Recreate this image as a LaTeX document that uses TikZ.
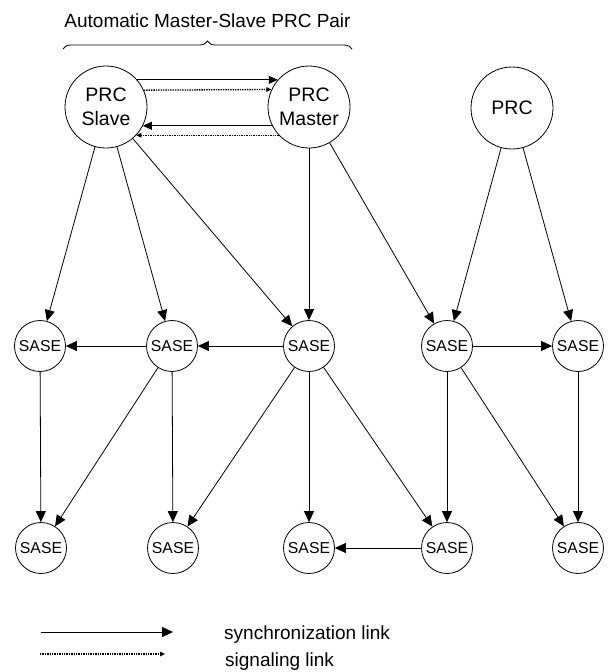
\documentclass[tikz,border=0pt]{standalone}
\usepackage{fontspec}
\setmainfont{Liberation Sans}
\usetikzlibrary{arrows.meta,decorations.pathreplacing}
\begin{document}
\begin{tikzpicture}[x=1pt,y=-1pt,
  prc/.style={circle,draw,line width=0.8pt,minimum size=82pt,inner sep=0pt,font=\fontsize{19.5}{23.5}\selectfont,align=center},
  sase/.style={circle,draw,line width=0.8pt,minimum size=51pt,inner sep=0pt,font=\fontsize{15.8}{18}\selectfont},
  sync/.style={line width=0.8pt,-{Triangle[length=11pt,width=10pt]}},
  syncs/.style={line width=0.8pt,-{Triangle[length=9pt,width=8pt]}},
  sig/.style={line width=1.3pt,dash pattern=on 1.4pt off 1pt,-{Triangle[length=5pt,width=4.5pt]}},
  lbl/.style={font=\fontsize{19}{23}\selectfont,inner sep=0pt,anchor=base west}]
\useasboundingbox (0,0) rectangle (609,672);

% title and brace
\node[lbl,anchor=base] (title) at (207.5,27) {Automatic Master-Slave PRC Pair};
\coordinate (bl) at (63,49);
\coordinate (br) at (352,49);
\draw[line width=0.8pt,decorate,decoration={brace,amplitude=8pt}] (bl) -- (br);

% PRC nodes
\node[prc] (slave) at (106,107) {PRC\\Slave};
\node[prc] (master) at (309,107) {PRC\\Master};
\node[prc] (prc) at (512,108) {PRC};

% SASE rows
\node[sase] (a1) at (40,346) {SASE};
\node[sase] (a2) at (172,346) {SASE};
\node[sase] (a3) at (309,346) {SASE};
\node[sase] (a4) at (447,346) {SASE};
\node[sase] (a5) at (578,346) {SASE};
\node[sase] (b1) at (41,548) {SASE};
\node[sase] (b2) at (173,548) {SASE};
\node[sase] (b3) at (309,548) {SASE};
\node[sase] (b4) at (447,548) {SASE};
\node[sase] (b5) at (578,548) {SASE};

% master-slave pair links
\draw[syncs] (slave.41) -- (master.139);
\draw[sig] (slave.24.5) -- (master.155.5);
\draw[syncs] (master.207.6) -- (slave.-27.6);
\draw[sig] (master.223) -- (slave.-43);

% PRC to SASE
\draw[sync] (slave) -- (a1);
\draw[sync] (slave) -- (a2);
\draw[sync] (slave) -- (a3);
\draw[sync] (master) -- (a3);
\draw[sync] (master) -- (a4);
\draw[sync] (prc) -- (a4);
\draw[sync] (prc) -- (a5);

% row 1 horizontal
\draw[sync] (a2) -- (a1);
\draw[sync] (a3) -- (a2);
\draw[sync] (a4) -- (a5);

% row 1 to row 2
\draw[sync] (a1) -- (b1);
\draw[sync] (a2) -- (b1);
\draw[sync] (a2) -- (b2);
\draw[sync] (a3) -- (b2);
\draw[sync] (a3) -- (b3);
\draw[sync] (a3) -- (b4);
\draw[sync] (a4) -- (b4);
\draw[sync] (a4) -- (b5);
\draw[sync] (a5) -- (b5);
\draw[sync] (b4) -- (b3);

% legend
\coordinate (l1a) at (41,632);
\coordinate (l1b) at (173,632);
\coordinate (l2a) at (40,654);
\coordinate (l2b) at (165,654);
\draw[sync] (l1a) -- (l1b);
\draw[sig] (l2a) -- (l2b);
\node[lbl] (t1) at (224,639) {synchronization link};
\node[lbl] (t2) at (225,666) {signaling link};
\end{tikzpicture}
\end{document}
